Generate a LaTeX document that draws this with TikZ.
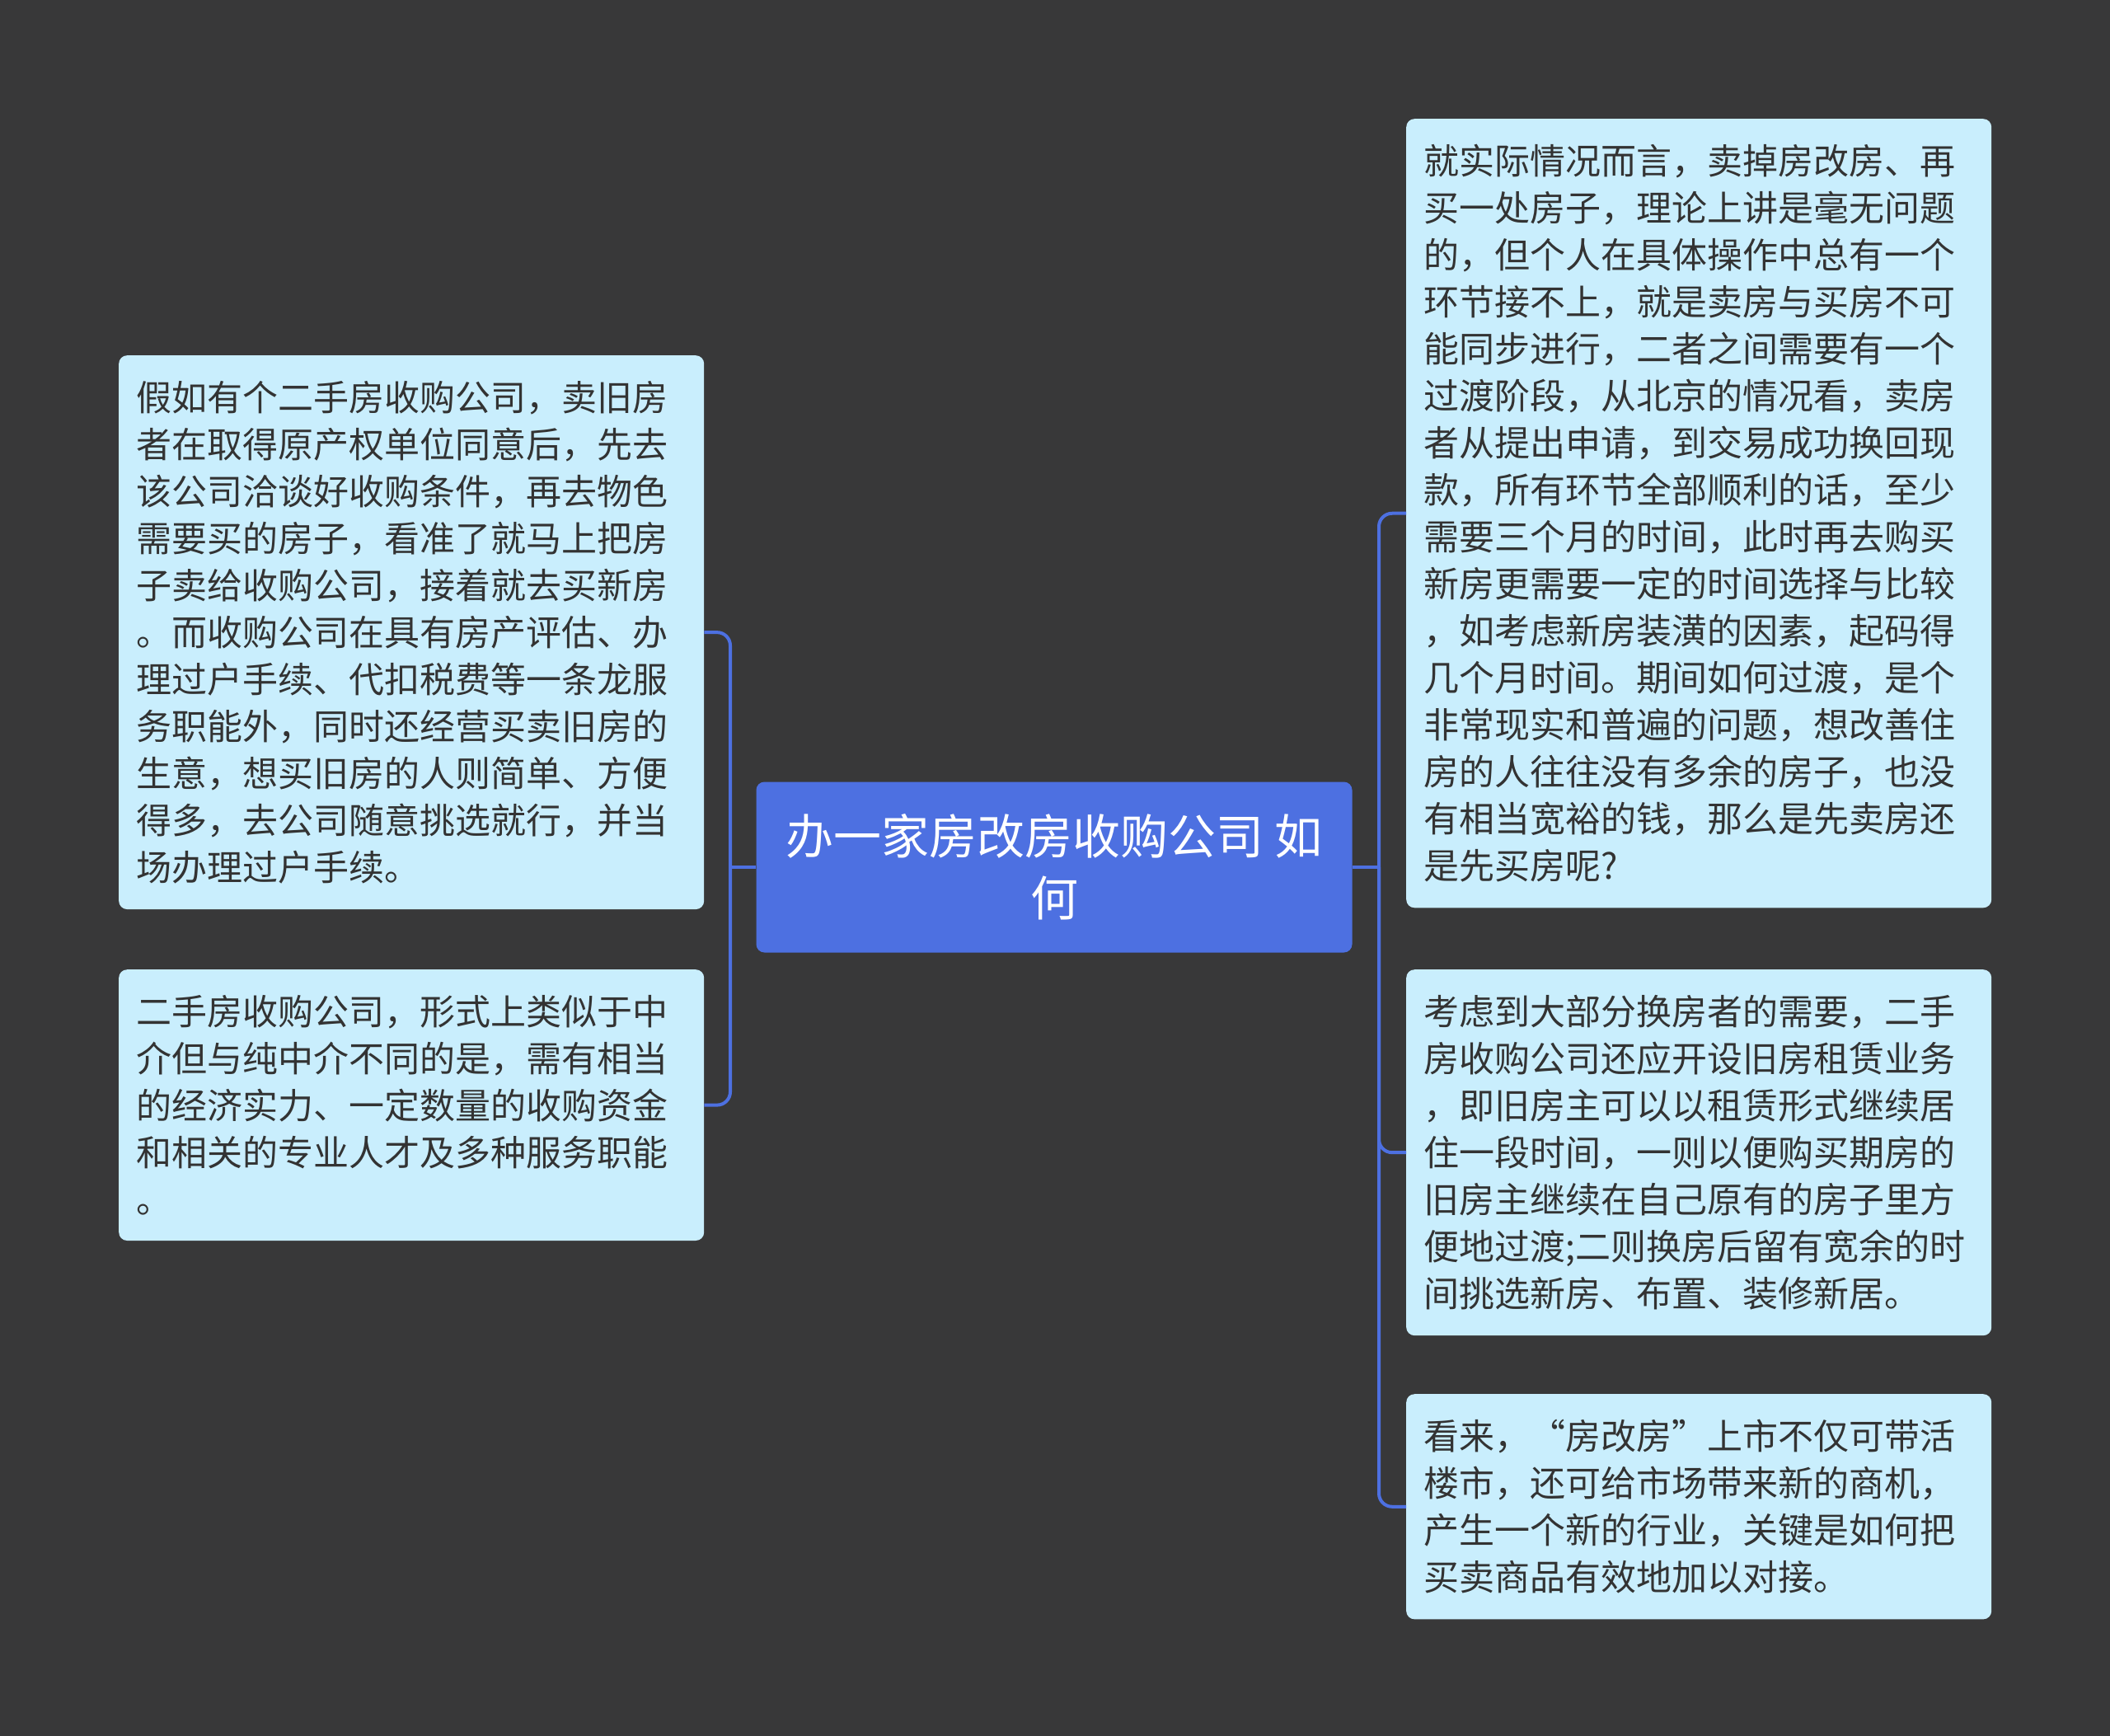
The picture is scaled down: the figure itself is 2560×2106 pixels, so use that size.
\documentclass[tikz,border=0pt]{standalone}
\usepackage{fontspec}
\newfontfamily\cjk{Noto Sans CJK SC}
\definecolor{bgdark}{RGB}{56,56,57}
\definecolor{rootblue}{RGB}{77,112,225}
\definecolor{leafcyan}{RGB}{201,238,253}
\definecolor{leaftext}{RGB}{51,51,51}

\begin{document}
\begin{tikzpicture}[x=1pt,y=-1pt,
leaf/.style={fill=leafcyan,text=leaftext,rounded corners=10pt,anchor=north west,
align=left,text width=668pt,inner xsep=21pt,inner ysep=31pt,
font=\cjk\fontsize{43}{57}\selectfont},
root/.style={fill=rootblue,text=white,rounded corners=10pt,align=center,
minimum width=723pt,minimum height=207pt,font=\cjk\fontsize{58}{75}\selectfont},
link/.style={rootblue,line width=4pt,rounded corners=16pt}]
\fill[bgdark] (0,0) rectangle (2560,2106);
% central topic
\node[root] (root) at (1279,1052) {办一家房改房收购公司 如\\何};
% left branch
\node[leaf] (l1) at (144,431) {假如有个二手房收购公司，卖旧房\\
者在取得原产权单位同意后，先去\\
该公司洽谈好收购条件，再去物色\\
需要买的房子，看准了就马上把房\\
子卖给收购公司，接着就去买新房\\
。而收购公司在具有房产评估、办\\
理过户手续、代扣税费等一条龙服\\
务职能外，同时还经营买卖旧房的\\
生意，想买旧房的人则简单、方便\\
得多，去公司随意挑选就行，并当\\
场办理过户手续。};
\node[leaf] (l2) at (144,1176) {二手房收购公司，形式上类似于中\\
介但与纯中介不同的是，需有相当\\
的经济实力、一定数量的收购资金\\
和相关的专业人才及多种服务职能\\
。};
% right branch
\node[leaf] (r1) at (1706,144) {就实际情况而言，卖掉房改房、再\\
买一处房子，理论上讲是毫无问题\\
的，但个人在具体操作中总有一个\\
环节接不上，就是卖房与买房不可\\
能同步进行，二者之间需要有一个\\
过渡阶段，从北京的情况看，卖房\\
者从提出申请，到交易成功换回现\\
款，所有环节全部顺利的话，至少\\
需要三个月的时间，此时再去购买\\
新房更需要一定的时间选择与比较\\
，如考虑新房装潢的因素，起码得\\
几个月时间。期间如何过渡，是个\\
非常现实和普遍的问题，想改善住\\
房的人往往没有多余的房子，也没\\
有相当宽裕的钱，那么是先卖房还\\
是先买房呢?};
\node[leaf] (r2) at (1706,1176) {考虑到大部分换房者的需要，二手\\
房收购公司还应开设旧房租赁业务\\
，即旧房主可以以租赁形式继续居\\
住一段时间，一则以便购买期房的\\
旧房主继续在自己原有的房子里方\\
便地过渡;二则换房后留有宽余的时\\
间挑选新房、布置、装修新居。};
\node[leaf] (r3) at (1706,1691) {看来，“房改房”上市不仅可带活\\
楼市，还可给市场带来新的商机，\\
产生一个新的行业，关键是如何把\\
买卖商品有效地加以对接。};
% connectors
\coordinate (lbus) at (886,0);
\coordinate (rbus) at (1673,0);
\draw[link] (root.west) -- (lbus |- root.west);
\draw[link] (l1.east) -| (lbus |- root.west);
\draw[link] (l2.east) -| (lbus |- root.west);
\draw[link] (root.east) -- (rbus |- root.east);
\draw[link] (r1.west) -| (rbus |- root.east);
\draw[link] (r2.west) -| (rbus |- root.east);
\draw[link] (r3.west) -| (rbus |- root.east);
\end{tikzpicture}
\end{document}
